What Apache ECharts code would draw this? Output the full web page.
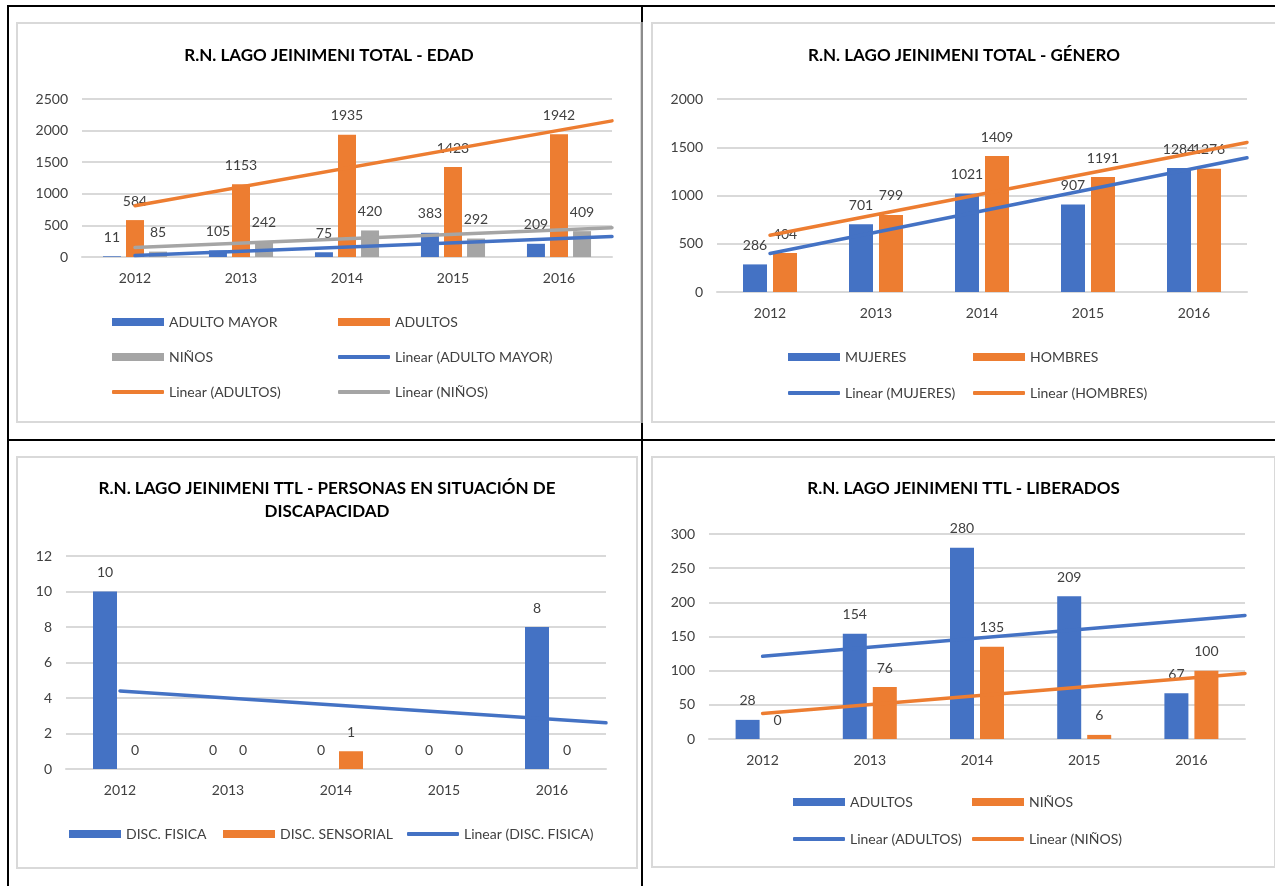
<!DOCTYPE html>
<html>
<head>
<meta charset="utf-8" />
<title>R.N. Lago Jeinimeni</title>
<script src="https://cdn.jsdelivr.net/npm/echarts@6/dist/echarts.min.js"></script>
<style>
  html, body { margin: 0; padding: 0; background: #fff; }
  #page { position: relative; width: 1275px; height: 886px; overflow: hidden; }
  .box { position: absolute; border: 2px solid #d9d9d9; box-sizing: border-box; }
  .rule { position: absolute; background: #000; }
</style>
</head>
<body>
<div id="page">
  <div id="edad" class="box" style="left:16px; top:22px; width:626px; height:401px;"></div>
  <div id="genero" class="box" style="left:651px; top:22px; width:626px; height:401px;"></div>
  <div id="disc" class="box" style="left:16px; top:456px; width:622px; height:413px;"></div>
  <div id="liberados" class="box" style="left:651px; top:456px; width:625px; height:412px;"></div>

  <!-- table lines round the four charts -->
  <div class="rule" style="left:7px; top:5px; width:1268px; height:2px;"></div>
  <div class="rule" style="left:7px; top:5px; width:2px; height:881px;"></div>
  <div class="rule" style="left:641px; top:5px; width:2px; height:881px;"></div>
  <div class="rule" style="left:641px; top:22px; width:2px; height:401px; background:#8c8c8c;"></div>
  <div class="rule" style="left:7px; top:439px; width:1268px; height:2px;"></div>
</div>
<script>
// data
var years = ["2012", "2013", "2014", "2015", "2016"];

var edadAdultoMayor = [11, 105, 75, 383, 209];
var edadAdultos = [584, 1153, 1935, 1423, 1942];
var edadNinos = [85, 242, 420, 292, 409];
var edadYMax = 2500;
var edadYStep = 500;

var generoMujeres = [286, 701, 1021, 907, 1284];
var generoHombres = [404, 799, 1409, 1191, 1276];
var generoYMax = 2000;
var generoYStep = 500;

var discFisica = [10, 0, 0, 0, 8];
var discSensorial = [0, 0, 1, 0, 0];
var discYMax = 12;
var discYStep = 2;

var liberadosAdultos = [28, 154, 280, 209, 67];
var liberadosNinos = [0, 76, 135, 6, 100];
var liberadosYMax = 300;
var liberadosYStep = 50;

var BLUE = "#4472C4";
var ORANGE = "#ED7D31";
var GRAY = "#A5A5A5";
var FONT = "Lato, 'Noto Sans', sans-serif";
var TEXT = "#404040";

// least squares line like Excel's "Linear" trendline,
// drawn from the first category to the right edge of the plot
function trendPoints(values) {
  var n = values.length;
  var sx = 0, sy = 0, sxy = 0, sxx = 0;
  for (var i = 0; i < n; i++) {
    var x = i + 1;
    sx += x; sy += values[i]; sxy += x * values[i]; sxx += x * x;
  }
  var b = (n * sxy - sx * sy) / (n * sxx - sx * sx);
  var a = (sy - b * sx) / n;
  return [[1, a + b], [n + 0.5, a + b * (n + 0.5)]];
}

function drawChart(id, cfg) {
  var series = [];
  cfg.bars.forEach(function(s) {
    series.push({
      name: s.name,
      type: "bar",
      xAxisIndex: 0,
      data: s.data,
      barWidth: cfg.barWidth,
      barGap: cfg.barGap,
      itemStyle: { color: s.color },
      label: {
        show: true,
        position: "top",
        distance: 12,
        fontSize: 14,
        fontFamily: FONT,
        color: TEXT
      },
      z: 2
    });
  });
  cfg.trends.forEach(function(s) {
    series.push({
      name: s.name,
      type: "line",
      xAxisIndex: 1,
      data: trendPoints(s.data),
      symbol: "none",
      silent: true,
      lineStyle: { color: s.color, width: 3.5, cap: "round" },
      itemStyle: { color: s.color },
      z: 5
    });
  });

  // one small legend per entry so the columns line up like Excel's
  var legends = cfg.legend.map(function(spot) {
    var isBar = cfg.bars.some(function(b) { return b.name === spot[0]; });
    return {
      data: [{ name: spot[0], icon: isBar ? "rect" : "roundRect" }],
      left: spot[1],
      top: spot[2],
      padding: 0,
      itemWidth: 52,
      itemHeight: isBar ? 8 : 4,
      itemGap: 0,
      selectedMode: false,
      textStyle: { fontSize: 14, fontFamily: FONT, color: TEXT }
    };
  });

  var option = {
    animation: false,
    title: {
      text: cfg.title,
      left: "center",
      top: cfg.titleTop,
      textStyle: {
        fontSize: 17,
        fontWeight: "bold",
        fontFamily: FONT,
        color: "#000",
        lineHeight: 23
      }
    },
    legend: legends,
    grid: cfg.grid,
    xAxis: [
      {
        type: "category",
        data: years,
        axisLine: { lineStyle: { color: "#d9d9d9", width: 2 } },
        axisTick: { show: false },
        axisLabel: { margin: 14, fontSize: 14, fontFamily: FONT, color: TEXT }
      },
      {
        type: "value",
        show: false,
        min: 0.5,
        max: years.length + 0.5
      }
    ],
    yAxis: {
      type: "value",
      min: 0,
      max: cfg.yMax,
      interval: cfg.yStep,
      axisLine: { show: false },
      axisTick: { show: false },
      axisLabel: {
        margin: 14,
        fontSize: 14,
        fontFamily: FONT,
        color: TEXT,
        formatter: function(v) { return String(v); }
      },
      splitLine: { lineStyle: { color: "#d9d9d9", width: 2 } }
    },
    series: series
  };

  var chart = echarts.init(document.getElementById(id));
  chart.setOption(option);
  return chart;
}

drawChart("edad", {
  title: "R.N. LAGO JEINIMENI TOTAL - EDAD",
  titleTop: 15,
  grid: { left: 64, top: 75, width: 530, height: 158 },
  barWidth: 18,
  barGap: "28%",
  yMax: edadYMax,
  yStep: edadYStep,
  bars: [
    { name: "ADULTO MAYOR", data: edadAdultoMayor, color: BLUE },
    { name: "ADULTOS", data: edadAdultos, color: ORANGE },
    { name: "NIÑOS", data: edadNinos, color: GRAY }
  ],
  trends: [
    { name: "Linear (ADULTO MAYOR)", data: edadAdultoMayor, color: BLUE },
    { name: "Linear (ADULTOS)", data: edadAdultos, color: ORANGE },
    { name: "Linear (NIÑOS)", data: edadNinos, color: GRAY }
  ],
  legend: [
    ["ADULTO MAYOR", 94, 291], ["ADULTOS", 320, 291],
    ["NIÑOS", 94, 326], ["Linear (ADULTO MAYOR)", 320, 326],
    ["Linear (ADULTOS)", 94, 361], ["Linear (NIÑOS)", 320, 361]
  ]
});

drawChart("genero", {
  title: "R.N. LAGO JEINIMENI TOTAL - GÉNERO",
  titleTop: 15,
  grid: { left: 64, top: 75, width: 530, height: 193 },
  barWidth: 24,
  barGap: "25%",
  yMax: generoYMax,
  yStep: generoYStep,
  bars: [
    { name: "MUJERES", data: generoMujeres, color: BLUE },
    { name: "HOMBRES", data: generoHombres, color: ORANGE }
  ],
  trends: [
    { name: "Linear (MUJERES)", data: generoMujeres, color: BLUE },
    { name: "Linear (HOMBRES)", data: generoHombres, color: ORANGE }
  ],
  legend: [
    ["MUJERES", 135, 326], ["HOMBRES", 320, 326],
    ["Linear (MUJERES)", 135, 362], ["Linear (HOMBRES)", 320, 362]
  ]
});

drawChart("disc", {
  title: "R.N. LAGO JEINIMENI TTL - PERSONAS EN SITUACIÓN DE\nDISCAPACIDAD",
  titleTop: 14,
  grid: { left: 48, top: 98, width: 540, height: 213 },
  barWidth: 24,
  barGap: "25%",
  yMax: discYMax,
  yStep: discYStep,
  bars: [
    { name: "DISC. FISICA", data: discFisica, color: BLUE },
    { name: "DISC. SENSORIAL", data: discSensorial, color: ORANGE }
  ],
  trends: [
    { name: "Linear (DISC. FISICA)", data: discFisica, color: BLUE }
  ],
  legend: [
    ["DISC. FISICA", 51, 369], ["DISC. SENSORIAL", 205, 369],
    ["Linear (DISC. FISICA)", 389, 369]
  ]
});

drawChart("liberados", {
  title: "R.N. LAGO JEINIMENI TTL - LIBERADOS",
  titleTop: 14,
  grid: { left: 56, top: 76, width: 536, height: 205 },
  barWidth: 24,
  barGap: "25%",
  yMax: liberadosYMax,
  yStep: liberadosYStep,
  bars: [
    { name: "ADULTOS", data: liberadosAdultos, color: BLUE },
    { name: "NIÑOS", data: liberadosNinos, color: ORANGE }
  ],
  trends: [
    { name: "Linear (ADULTOS)", data: liberadosAdultos, color: BLUE },
    { name: "Linear (NIÑOS)", data: liberadosNinos, color: ORANGE }
  ],
  legend: [
    ["ADULTOS", 140, 337], ["NIÑOS", 319, 337],
    ["Linear (ADULTOS)", 140, 374], ["Linear (NIÑOS)", 319, 374]
  ]
});
</script>
</body>
</html>
